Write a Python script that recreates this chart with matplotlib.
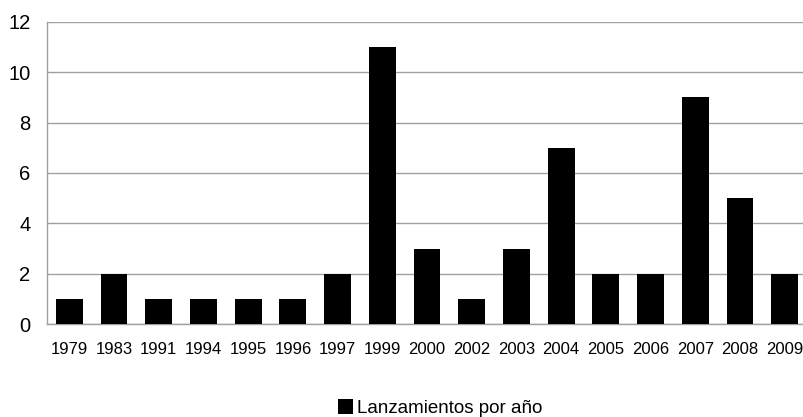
import matplotlib
matplotlib.use("Agg")
import matplotlib.pyplot as plt

years = ["1979", "1983", "1991", "1994", "1995", "1996", "1997", "1999", "2000",
         "2002", "2003", "2004", "2005", "2006", "2007", "2008", "2009"]
launches = [1, 2, 1, 1, 1, 1, 2, 11, 3, 1, 3, 7, 2, 2, 9, 5, 2]
series_name = "Lanzamientos por año"

plt.rcParams["font.family"] = ["Liberation Sans", "DejaVu Sans"]

fig = plt.figure(figsize=(8.04, 4.17), dpi=100)
ax = fig.add_axes([47 / 804, 93 / 417, 760 / 804, 302 / 417])

x = range(len(years))
ax.bar(x, launches, width=0.6, color="black", label=series_name, zorder=3)

ax.set_xlim(-0.5, len(years) - 0.5)
ax.set_ylim(0, 12)
ax.set_yticks(range(0, 13, 2))
ax.set_xticks(list(x))
ax.set_xticklabels(years, fontsize=12)
ax.tick_params(axis="y", labelsize=14.5, length=0, pad=12)
ax.tick_params(axis="x", length=0, pad=13)

ax.yaxis.grid(True, color="#a0a0a0", linewidth=1.0, zorder=0)
for side in ["top", "right"]:
    ax.spines[side].set_visible(False)
for side in ["left", "bottom"]:
    ax.spines[side].set_color("#a0a0a0")
    ax.spines[side].set_linewidth(1.0)

ax.legend(loc="center", bbox_to_anchor=(440 / 804, 9 / 417),
          bbox_transform=fig.transFigure, frameon=False, fontsize=13.5,
          handlelength=0.8, handleheight=0.8, handletextpad=0.2,
          borderpad=0.2)

fig.savefig("out.png", dpi=100)
